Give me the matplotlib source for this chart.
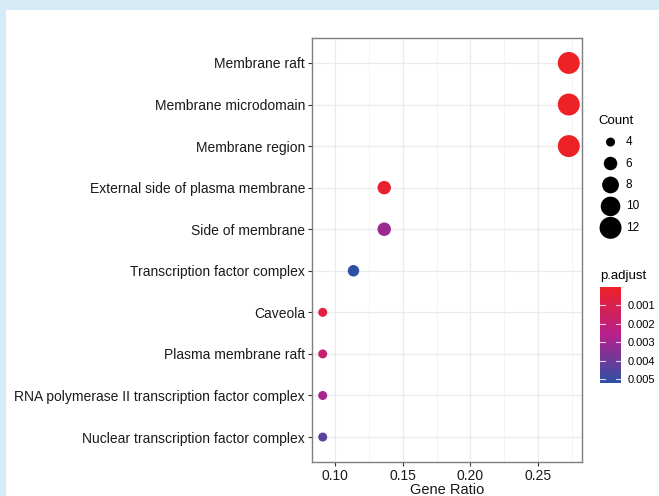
import numpy as np
import matplotlib
matplotlib.use('Agg')
import matplotlib.pyplot as plt
from matplotlib.colors import LinearSegmentedColormap, Normalize
from matplotlib.patches import Rectangle

plt.rcParams['font.family'] = ['Liberation Sans', 'DejaVu Sans']

terms = ['Membrane raft', 'Membrane microdomain', 'Membrane region',
         'External side of plasma membrane', 'Side of membrane',
         'Transcription factor complex', 'Caveola', 'Plasma membrane raft',
         'RNA polymerase II transcription factor complex',
         'Nuclear transcription factor complex']
counts = [12, 12, 12, 6, 6, 5, 4, 4, 4, 4]
gene_ratio = [12 / 44, 12 / 44, 12 / 44, 6 / 44, 6 / 44, 5 / 44, 4 / 44, 4 / 44, 4 / 44, 4 / 44]
p_adjust = [0.00002, 0.00003, 0.00004, 0.0003, 0.0031, 0.0052, 0.0006, 0.0019, 0.0029, 0.0044]
size_breaks = [4, 6, 8, 10, 12]
color_ticks = [0.001, 0.002, 0.003, 0.004, 0.005]

cmap = LinearSegmentedColormap.from_list('rb', ['#EE2127', '#B5218C', '#2D50A5'])
norm = Normalize(vmin=min(p_adjust), vmax=max(p_adjust))


def msize(c):
    # area scales linearly between count 4 and count 12
    return 42 + (c - 4) / (12 - 4) * (250 - 42)


fig = plt.figure(figsize=(6.59, 4.96), dpi=100)
fig.patch.set_facecolor('#D6EBF8')
fig.patches.append(Rectangle((6 / 659, 0), 653 / 659, 486 / 496, transform=fig.transFigure,
                             facecolor='white', edgecolor='none', zorder=-10))

ax = fig.add_axes([312 / 659, 1 - 462 / 496, 270 / 659, 424 / 496])
ypos = np.arange(len(terms))
ax.scatter(gene_ratio, ypos, s=[msize(c) for c in counts], c=p_adjust, cmap=cmap, norm=norm,
           edgecolors='none', zorder=3)

ax.set_ylim(len(terms) - 0.4, -0.6)
ax.set_xlim(0.083, 0.2825)
ax.set_yticks(ypos)
ax.set_yticklabels(terms, fontsize=10, color='#1a1a1a')
ax.set_xticks([0.10, 0.15, 0.20, 0.25])
ax.set_xticklabels(['0.10', '0.15', '0.20', '0.25'], fontsize=10, color='#1a1a1a')
ax.set_xticks([0.125, 0.175, 0.225, 0.275], minor=True)
ax.grid(True, which='major', color='#EBEBEB', linewidth=0.9, zorder=0)
ax.grid(True, which='minor', axis='x', color='#F2F2F2', linewidth=0.6, zorder=0)
ax.set_axisbelow(True)
ax.tick_params(axis='both', which='major', length=3, width=0.8, color='#333333', pad=2)
ax.tick_params(axis='x', which='minor', length=0)
for sp in ax.spines.values():
    sp.set_color('#7F7F7F')
    sp.set_linewidth(1.0)
ax.set_xlabel('Gene Ratio', fontsize=10.5, labelpad=0, color='#1a1a1a')

# size legend
handles = [ax.scatter([], [], s=msize(c), color='black', edgecolors='none') for c in size_breaks]
leg = fig.legend(handles, [str(c) for c in size_breaks], title='Count', loc='upper left',
                 bbox_to_anchor=(594 / 659, 1 - 110 / 496), frameon=False, fontsize=8.5,
                 title_fontsize=9.5, labelspacing=0.8, handletextpad=0.3, borderaxespad=0,
                 alignment='left')

# colour bar
cax = fig.add_axes([600 / 659, 1 - 383 / 496, 21 / 659, 96 / 496])
sm = plt.cm.ScalarMappable(norm=norm, cmap=cmap)
cb = fig.colorbar(sm, cax=cax, ticks=color_ticks)
cb.outline.set_visible(False)
cb.ax.tick_params(labelsize=8, length=0, pad=5)
for t in color_ticks:
    cb.ax.plot([0, 0.22], [t, t], color='white', lw=0.8, alpha=0.8)
    cb.ax.plot([0.78, 1], [t, t], color='white', lw=0.8, alpha=0.8)
cb.ax.set_yticklabels(['0.001', '0.002', '0.003', '0.004', '0.005'])
cb.ax.invert_yaxis()
fig.text(600 / 659, 1 - 276 / 496, 'p.adjust', fontsize=9.5, va='center', ha='left')

fig.savefig('out.png', dpi=100, facecolor=fig.get_facecolor())
